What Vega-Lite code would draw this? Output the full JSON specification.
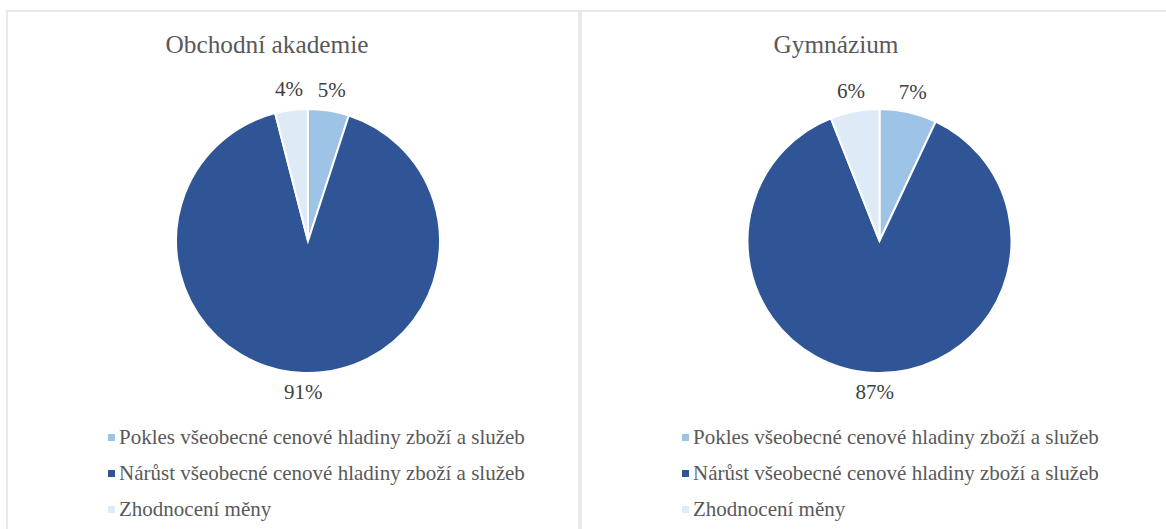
{
  "$schema": "https://vega.github.io/schema/vega-lite/v6.json",
  "padding": {"left": 6, "top": 10, "right": 0, "bottom": 0},
  "background": "white",
  "spacing": 0,
  "config": {
    "view": {"stroke": "#E3E3E3", "strokeWidth": 1.5},
    "font": "Liberation Serif"
  },
  "datasets": {
    "d": [
      {"skola": "Obchodní akademie", "kategorie": "Pokles všeobecné cenové hladiny zboží a služeb", "podil": 0.05, "poradi": 1},
      {"skola": "Obchodní akademie", "kategorie": "Nárůst všeobecné cenové hladiny zboží a služeb", "podil": 0.91, "poradi": 2},
      {"skola": "Obchodní akademie", "kategorie": "Zhodnocení měny", "podil": 0.04, "poradi": 3},
      {"skola": "Gymnázium", "kategorie": "Pokles všeobecné cenové hladiny zboží a služeb", "podil": 0.07, "poradi": 1},
      {"skola": "Gymnázium", "kategorie": "Nárůst všeobecné cenové hladiny zboží a služeb", "podil": 0.87, "poradi": 2},
      {"skola": "Gymnázium", "kategorie": "Zhodnocení měny", "podil": 0.06, "poradi": 3}
    ]
  },
  "hconcat": [
    {
      "width": 572,
      "height": 530,
      "view": {"stroke": "#E3E3E3", "strokeWidth": 1.5},
      "data": {"name": "d"},
      "transform": [{"filter": "datum.skola === 'Obchodní akademie'"}],
      "title": {"text": "Obchodní akademie", "fontSize": 25.3, "font": "Liberation Serif", "fontWeight": "normal", "color": "#595959", "offset": -67, "baseline": "alphabetic", "dx": -26},
      "encoding": {
        "theta": {"field": "podil", "type": "quantitative", "stack": true},
        "order": {"field": "poradi", "type": "quantitative"}
      },
      "layer": [
        {
          "mark": {"type": "arc", "outerRadius": 132, "x": 301, "y": 230, "stroke": "white", "strokeWidth": 2},
          "encoding": {
            "color": {
              "field": "kategorie", "type": "nominal",
              "scale": {"domain": ["Pokles všeobecné cenové hladiny zboží a služeb", "Nárůst všeobecné cenové hladiny zboží a služeb", "Zhodnocení měny"], "range": ["#9DC3E6", "#2F5597", "#DEEBF7"]},
              "legend": {"orient": "none", "legendX": 94, "legendY": 416, "title": null, "symbolType": "square", "symbolSize": 49, "symbolStrokeWidth": 0, "labelFontSize": 21, "labelFont": "Liberation Serif", "labelColor": "#595959", "labelOffset": -3, "rowPadding": 14, "labelLimit": 600}
            }
          }
        },
        {
          "mark": {"type": "text", "radius": 152, "x": 301, "y": 230, "fontSize": 21, "font": "Liberation Serif", "fill": "#404040"},
          "encoding": {"text": {"field": "podil", "type": "quantitative", "format": ".0%"}}
        }
      ]
    },
    {
      "width": 590,
      "height": 530,
      "view": {"stroke": "#E3E3E3", "strokeWidth": 1.5},
      "data": {"name": "d"},
      "transform": [{"filter": "datum.skola === 'Gymnázium'"}],
      "title": {"text": "Gymnázium", "fontSize": 25.3, "font": "Liberation Serif", "fontWeight": "normal", "color": "#595959", "offset": -67, "baseline": "alphabetic", "dx": -40},
      "encoding": {
        "theta": {"field": "podil", "type": "quantitative", "stack": true},
        "order": {"field": "poradi", "type": "quantitative"}
      },
      "layer": [
        {
          "mark": {"type": "arc", "outerRadius": 132, "x": 298.5, "y": 230, "stroke": "white", "strokeWidth": 2},
          "encoding": {
            "color": {
              "field": "kategorie", "type": "nominal",
              "scale": {"domain": ["Pokles všeobecné cenové hladiny zboží a služeb", "Nárůst všeobecné cenové hladiny zboží a služeb", "Zhodnocení měny"], "range": ["#9DC3E6", "#2F5597", "#DEEBF7"]},
              "legend": {"orient": "none", "legendX": 94, "legendY": 416, "title": null, "symbolType": "square", "symbolSize": 49, "symbolStrokeWidth": 0, "labelFontSize": 21, "labelFont": "Liberation Serif", "labelColor": "#595959", "labelOffset": -3, "rowPadding": 14, "labelLimit": 600}
            }
          }
        },
        {
          "mark": {"type": "text", "radius": 152, "x": 298.5, "y": 230, "fontSize": 21, "font": "Liberation Serif", "fill": "#404040"},
          "encoding": {"text": {"field": "podil", "type": "quantitative", "format": ".0%"}}
        }
      ]
    }
  ],
  "resolve": {"scale": {"color": "independent", "theta": "independent"}}
}
